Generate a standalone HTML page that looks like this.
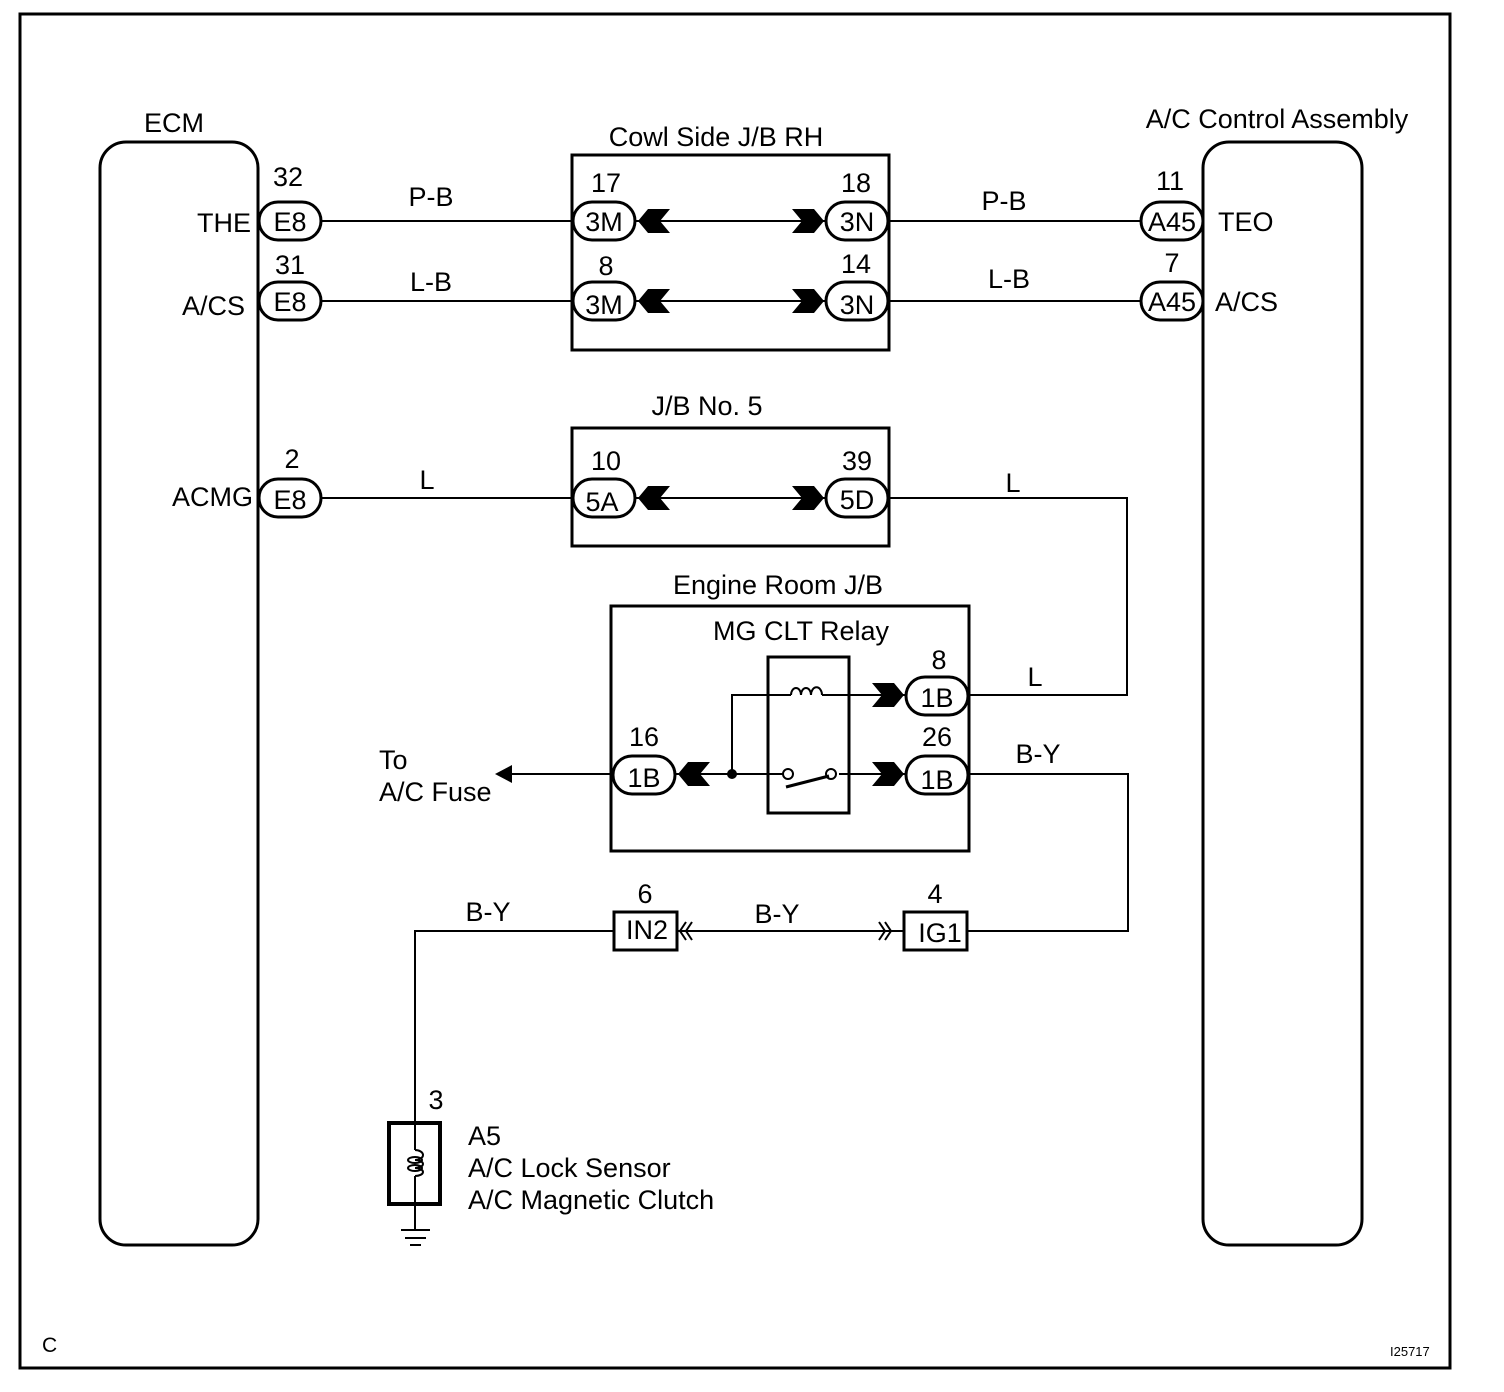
<!DOCTYPE html>
<html><head><style>body{margin:0;background:#fff}svg{display:block}text{font-family:"Liberation Sans",sans-serif;font-size:27px;fill:#000}</style></head><body>
<svg width="1504" height="1392" viewBox="0 0 1504 1392" xmlns="http://www.w3.org/2000/svg">
<defs>
<path id="al" d="M0,0 L10,-12 L32,-12 L22,0 L32,12 L10,12 Z"/>
<path id="ar" d="M0,0 L-10,-12 L-32,-12 L-22,0 L-32,12 L-10,12 Z"/>
</defs>
<g fill="none" stroke="#000">
<rect x="20" y="14" width="1430" height="1354" stroke-width="3"/>
<rect x="100" y="142" width="158" height="1103" rx="26" stroke-width="3"/>
<rect x="1203" y="142" width="159" height="1103" rx="26" stroke-width="3"/>
<rect x="572" y="155" width="317" height="195" stroke-width="3"/>
<rect x="572" y="428" width="317" height="118" stroke-width="3"/>
<rect x="611" y="606" width="358" height="245" stroke-width="3"/>
<rect x="768" y="657" width="81" height="156" stroke-width="3"/>
<rect x="614" y="912" width="63" height="38" stroke-width="3"/>
<rect x="904" y="912" width="63" height="38" stroke-width="3"/>
<rect x="389" y="1123" width="51" height="81" stroke-width="4"/>
<g stroke-width="2">
<path d="M321,221H573M635,221H826M888,221H1141"/>
<path d="M321,301H573M635,301H826M888,301H1141"/>
<path d="M321,498H573M635,498H826M888,498H1127V695H969"/>
<path d="M969,774H1128V931H967M904,931H677M614,931H415V1123"/>
<path d="M415,1204V1230M401,1230H430M405,1238H426M410,1245H421"/>
<path d="M512,774H611M676,774H783M839,774H905M732,774V695H791M822,695H905"/>
<path d="M415,1123V1150M415,1176V1204"/>
</g>
<path d="M791,695a5,7 0 0 1 10,0a5,7 0 0 1 10,0a5,7 0 0 1 11,0" stroke-width="2"/>
<path d="M415,1150a8,5 0 0 1 0,10a8,4 0 0 1 0,8a8,4 0 0 1 0,8" stroke-width="2"/>
<ellipse cx="415" cy="1160" rx="7" ry="3" stroke-width="2"/>
<ellipse cx="415" cy="1168" rx="7" ry="3" stroke-width="2"/>
<circle cx="788" cy="774" r="5" fill="#fff" stroke-width="2"/>
<circle cx="831" cy="774" r="5" fill="#fff" stroke-width="2"/>
<path d="M786,787L829,776" stroke-width="3"/>
<path d="M686,922L680,931L686,940M692,922L686,931L692,940M885,922L891,931L885,940M879,922L885,931L879,940" stroke-width="2"/>
<g stroke-width="3" fill="#fff">
<rect x="259" y="202" width="62" height="38" rx="19"/><rect x="259" y="282" width="62" height="38" rx="19"/><rect x="259" y="479" width="62" height="38" rx="19"/>
<rect x="1141" y="202" width="62" height="38" rx="19"/><rect x="1141" y="282" width="62" height="38" rx="19"/>
<rect x="573" y="202" width="62" height="38" rx="19"/><rect x="573" y="282" width="62" height="38" rx="19"/><rect x="573" y="479" width="62" height="38" rx="19"/>
<rect x="826" y="202" width="62" height="38" rx="19"/><rect x="826" y="282" width="62" height="38" rx="19"/><rect x="826" y="479" width="62" height="38" rx="19"/>
<rect x="906" y="677" width="62" height="38" rx="19"/><rect x="906" y="756" width="62" height="38" rx="19"/><rect x="613" y="756" width="62" height="38" rx="19"/>
</g>
</g>
<g fill="#000">
<use href="#al" x="638" y="221"/><use href="#al" x="638" y="301"/><use href="#al" x="638" y="498"/><use href="#al" x="678" y="774"/>
<use href="#ar" x="824" y="221"/><use href="#ar" x="824" y="301"/><use href="#ar" x="824" y="498"/><use href="#ar" x="904" y="695"/><use href="#ar" x="904" y="774"/>
<circle cx="732" cy="774" r="5"/>
<path d="M495,774L512,765L512,783Z"/>
</g>
<g text-anchor="middle">
<text x="290" y="231">E8</text><text x="290" y="311">E8</text><text x="290" y="509">E8</text>
<text x="1172" y="231">A45</text><text x="1172" y="311">A45</text>
<text x="604" y="231">3M</text><text x="604" y="314">3M</text><text x="602" y="511">5A</text>
<text x="857" y="231">3N</text><text x="857" y="314">3N</text><text x="857" y="509">5D</text>
<text x="937" y="707">1B</text><text x="937" y="789">1B</text><text x="644" y="787">1B</text>
<text x="647" y="939">IN2</text><text x="940" y="942">IG1</text>
<text x="288" y="186">32</text><text x="290" y="274">31</text><text x="292" y="468">2</text>
<text x="1170" y="190">11</text><text x="1172" y="272">7</text>
<text x="606" y="192">17</text><text x="606" y="275">8</text><text x="606" y="470">10</text>
<text x="856" y="192">18</text><text x="856" y="273">14</text><text x="857" y="470">39</text>
<text x="939" y="669">8</text><text x="937" y="746">26</text><text x="644" y="746">16</text>
<text x="645" y="903">6</text><text x="935" y="903">4</text><text x="436" y="1109">3</text>
<text x="431" y="206">P-B</text><text x="431" y="291">L-B</text><text x="427" y="489">L</text>
<text x="1004" y="210">P-B</text><text x="1009" y="288">L-B</text><text x="1013" y="492">L</text>
<text x="1035" y="686">L</text><text x="1038" y="763">B-Y</text><text x="488" y="921">B-Y</text><text x="777" y="923">B-Y</text>
<text x="174" y="132">ECM</text><text x="1277" y="128">A/C Control Assembly</text>
<text x="716" y="146">Cowl Side J/B RH</text><text x="707" y="415">J/B No. 5</text>
<text x="778" y="594">Engine Room J/B</text><text x="801" y="640">MG CLT Relay</text>
</g>
<g text-anchor="end">
<text x="251" y="232">THE</text><text x="245" y="315">A/CS</text><text x="253" y="506">ACMG</text>
</g>
<text x="1218" y="231">TEO</text><text x="1215" y="311">A/CS</text>
<text x="379" y="769">To</text><text x="379" y="801">A/C Fuse</text>
<text x="468" y="1145">A5</text><text x="468" y="1177">A/C Lock Sensor</text><text x="468" y="1209">A/C Magnetic Clutch</text>
<text x="42" y="1352" style="font-size:21px">C</text>
<text x="1390" y="1356" style="font-size:13px">I25717</text>
</svg>
</body></html>
